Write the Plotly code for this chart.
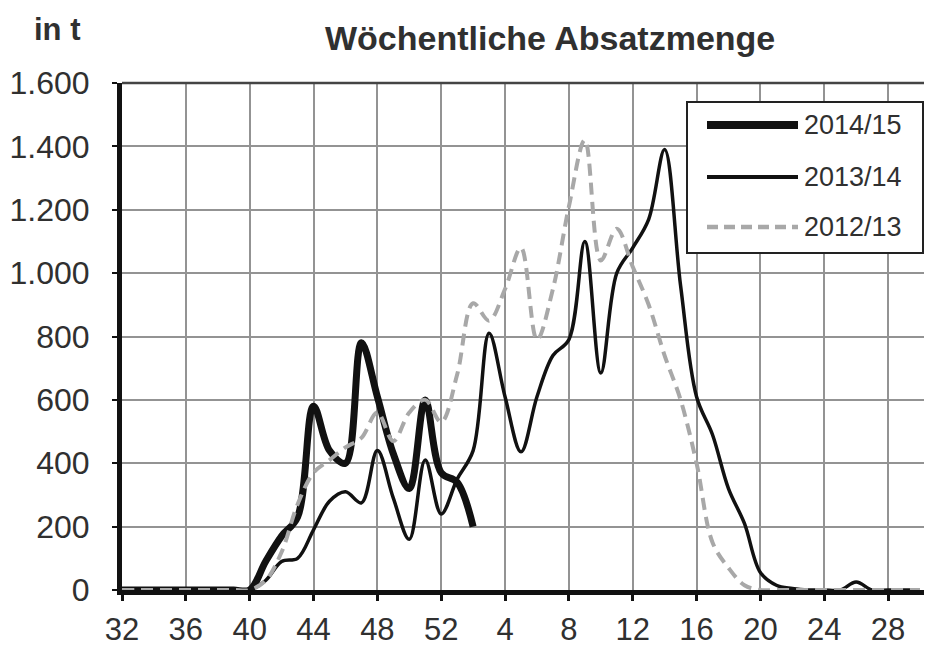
import plotly.graph_objects as go

# ---- data ----
weeks = list(range(32, 53)) + list(range(1, 31))
tick_weeks = [32, 36, 40, 44, 48, 52, 4, 8, 12, 16, 20, 24, 28]
y_ticks = [0, 200, 400, 600, 800, 1000, 1200, 1400, 1600]

# 2014/15 : week 32 .. week 2
s_2014_15 = [0, 0, 0, 0, 0, 0, 0, 0,
             0, 90, 170, 230, 580, 440, 400, 780, 610, 430, 320, 600, 370,
             340, 200]
# 2013/14 : week 32 .. week 30
s_2013_14 = [0, 0, 0, 0, 0, 0, 0, 0,
             0, 30, 90, 100, 190, 280, 310, 275, 440, 290, 160, 410, 240,
             350, 440, 810, 610, 436, 610, 740, 790, 1100, 685, 1000, 1080, 1170, 1390,
             960, 610, 490, 320, 210, 55, 15, 5, 0, 0, 0, 25, 0, 0, 0, 0]
# 2012/13 : week 32 .. week 30
s_2012_13 = [0, 0, 0, 0, 0, 0, 0, 0,
             0, 30, 120, 270, 370, 410, 450, 480, 560, 470, 560, 600, 530,
             680, 905, 850, 950, 1080, 790, 950, 1210, 1420, 1040, 1140, 1020, 900, 740,
             600, 400, 150, 70, 15, 0, 0, 0, 0, 0, 0, 0, 0, 0, 0, 0]

series_names = ["2014/15", "2013/14", "2012/13"]

# ---- figure ----
pos = list(range(len(weeks)))
tickvals = [weeks.index(w) for w in tick_weeks]

OFF = 8  # page body margin
W, H = 932 - OFF, 648 - OFF
L, R, T = 122 - OFF, 0, 83 - OFF
B = H - (590 - OFF)
PW, PH = W - L - R, H - T - B

def px2x(px):
    return (px - OFF - L) / PW

def py2y(py):
    return (H - B - (py - OFF)) / PH

FONT = "Liberation Sans, Arial, sans-serif"
TXT = "#303030"

fig = go.Figure()
fig.add_trace(go.Scatter(x=pos[:len(s_2014_15)], y=s_2014_15, mode="lines",
                         line=dict(color="#111111", width=7, shape="spline", smoothing=1.0),
                         name=series_names[0], showlegend=False))
fig.add_trace(go.Scatter(x=pos, y=s_2013_14, mode="lines",
                         line=dict(color="#111111", width=3.5, shape="spline", smoothing=1.0),
                         name=series_names[1], showlegend=False))
fig.add_trace(go.Scatter(x=pos, y=s_2012_13, mode="lines",
                         line=dict(color="#a8a8a8", width=4, shape="spline", smoothing=1.0,
                                   dash="12px,7px"),
                         name=series_names[2], showlegend=False))

x_range_max = PW / 15.96

fig.update_layout(
    width=W, height=H,
    margin=dict(l=L, r=R, t=T, b=B, pad=0, autoexpand=False),
    paper_bgcolor="white", plot_bgcolor="white",
    separators=",.",
    font=dict(family=FONT, color=TXT, size=31),
    xaxis=dict(range=[0, x_range_max], tickvals=tickvals, ticktext=[str(w) for w in tick_weeks],
               showgrid=True, gridcolor="#939393", gridwidth=1.6, automargin=False,
               showline=True, linecolor="#111111", linewidth=5,
               ticks="outside", ticklen=6, tickwidth=3, tickcolor="#111111",
               tickfont=dict(size=31, color=TXT, family=FONT),
               ticklabelstandoff=2, layer="below traces", zeroline=False),
    yaxis=dict(range=[0, 1600], tickvals=y_ticks, tickformat=",d",
               showgrid=True, gridcolor="#939393", gridwidth=1.6, automargin=False,
               showline=True, linecolor="#111111", linewidth=5,
               ticks="outside", ticklen=5, tickwidth=2, tickcolor="#111111",
               tickfont=dict(size=32, color=TXT, family=FONT),
               ticklabelstandoff=16, layer="below traces", zeroline=False),
)

shapes = []
annotations = []
# top frame line
shapes.append(dict(type="line", xref="paper", yref="paper", x0=0, x1=1, y0=1, y1=1,
                   line=dict(color="#444444", width=2.5), layer="above"))

# legend (drawn manually)
shapes.append(dict(type="rect", xref="paper", yref="paper",
                   x0=px2x(687), x1=px2x(923), y0=py2y(253), y1=py2y(102),
                   fillcolor="white", line=dict(color="#222222", width=2), layer="above"))
leg_styles = [dict(color="#111111", width=8), dict(color="#111111", width=4),
              dict(color="#a8a8a8", width=4.5, dash="11px,6px")]
leg_y = [125, 177, 227]
for name, st, yy in zip(series_names, leg_styles, leg_y):
    shapes.append(dict(type="line", xref="paper", yref="paper",
                       x0=px2x(707), x1=px2x(798), y0=py2y(yy), y1=py2y(yy),
                       line=st, layer="above"))
    annotations.append(dict(xref="paper", yref="paper", x=px2x(802), y=py2y(yy),
                            xanchor="left", yanchor="middle", showarrow=False,
                            text=name, font=dict(size=27, color=TXT, family=FONT)))

# title and unit
annotations.append(dict(xref="paper", yref="paper", x=px2x(550), y=py2y(38),
                        xanchor="center", yanchor="middle", showarrow=False,
                        text="<b>Wöchentliche Absatzmenge</b>",
                        font=dict(size=34, color=TXT, family=FONT)))
annotations.append(dict(xref="paper", yref="paper", x=px2x(57), y=py2y(30),
                        xanchor="center", yanchor="middle", showarrow=False,
                        text="<b>in t</b>",
                        font=dict(size=31, color=TXT, family=FONT)))

fig.update_layout(shapes=shapes, annotations=annotations)
fig.write_html("out.html")
